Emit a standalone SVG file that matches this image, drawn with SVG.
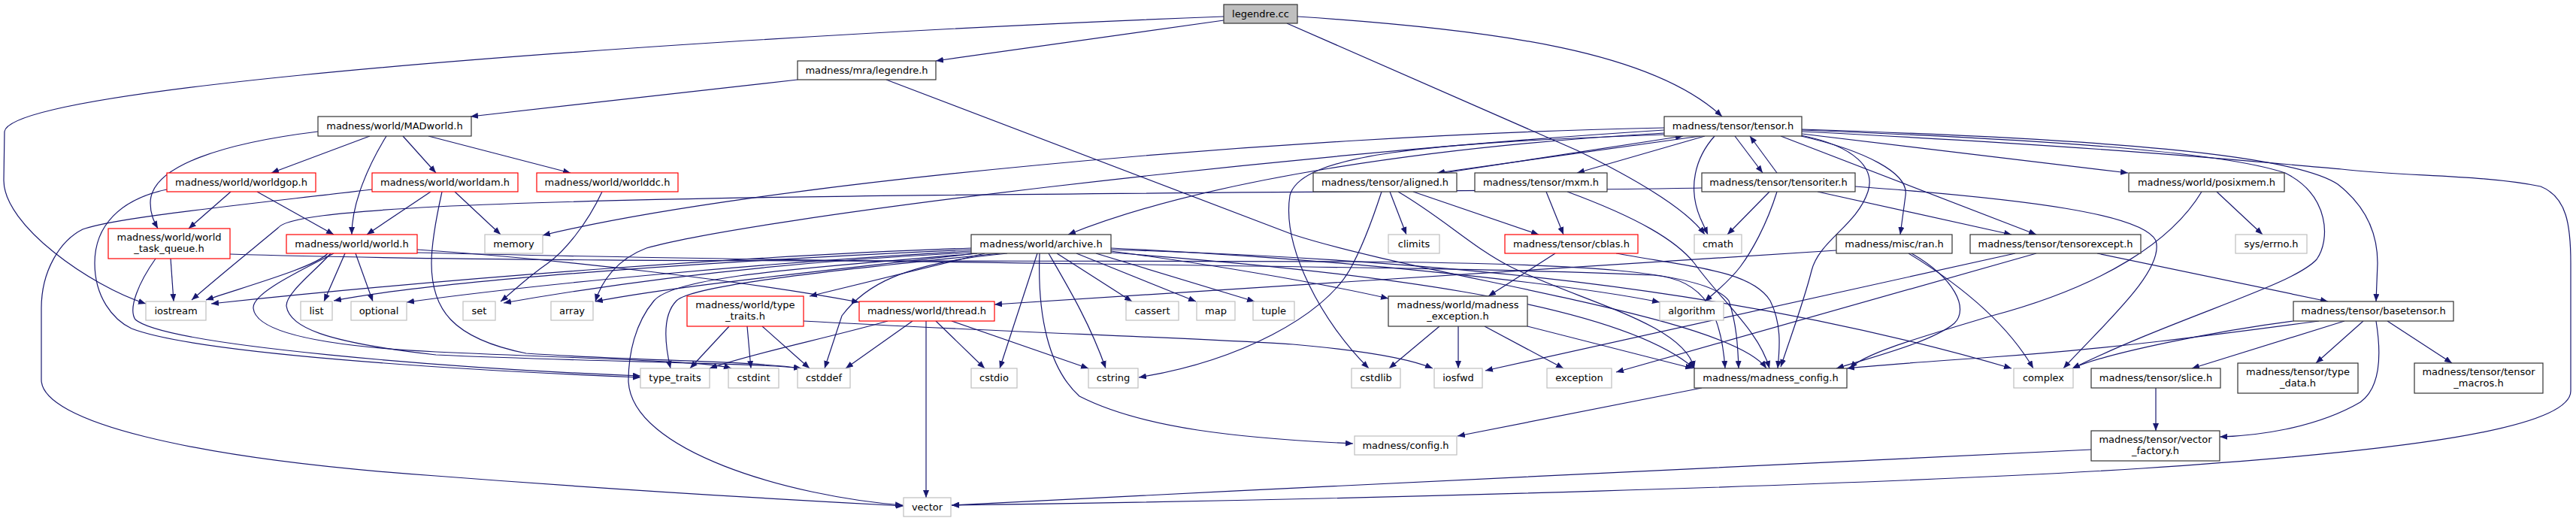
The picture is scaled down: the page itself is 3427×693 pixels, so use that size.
<svg xmlns="http://www.w3.org/2000/svg" width="3427" height="693" viewBox="0 0 3427 693">
<defs>
<marker id="a" markerWidth="11" markerHeight="8" refX="10" refY="4" orient="auto" markerUnits="userSpaceOnUse"><path d="M0,0 L10,4 L0,8 z" fill="#191970"/></marker>
<style>
.n rect{fill:#fff;stroke:#333;stroke-width:1.2}
.r rect{fill:#fff;stroke:#f00;stroke-width:1.2}
.g rect{fill:#fff;stroke:#bfbfbf;stroke-width:1.2}
.s rect{fill:#bfbfbf;stroke:#333;stroke-width:1.2}
text{font-family:"DejaVu Sans","Liberation Sans",sans-serif;font-size:13px;fill:#000;text-anchor:middle}
#edges path{fill:none;stroke:#191970;stroke-width:1.2;marker-end:url(#a)}
</style>
</defs>
<rect width="3427" height="693" fill="#fff"/>
<g id="edges">
<path d="M1628,27 L1245,81"/>
<path d="M1628,22 C1200,38 700,70 400,100 C150,125 10,150 6,175 L5,240 C5,300 120,380 194,404"/>
<path d="M1726,22 C2000,40 2200,70 2291,155"/>
<path d="M1712,31 L2098,200 C2180,240 2245,280 2268,312"/>
<path d="M1061,106 L626,155"/>
<path d="M1179,106 L1720,312 C1900,370 2300,420 2350,490"/>
<path d="M423,175 C300,190 200,220 200,270 C200,285 205,295 210,304"/>
<path d="M492,181 L361,230"/>
<path d="M514,181 C490,220 468,270 468,312"/>
<path d="M536,181 L580,230"/>
<path d="M570,181 L759,230"/>
<path d="M307,255 L251,304"/>
<path d="M342,255 L444,312"/>
<path d="M222,252 C160,265 126,300 126,350 C126,395 150,425 175,437 C260,470 600,492 852,502"/>
<path d="M573,255 L488,312"/>
<path d="M605,255 L666,312"/>
<path d="M495,252 C300,275 150,290 110,305 C80,320 55,360 55,410 L55,505 C55,560 250,610 580,633 C800,650 1050,665 1202,673"/>
<path d="M588,255 C578,300 574,330 574,350 C574,410 600,450 700,470 C850,480 1000,480 1066,490"/>
<path d="M801,255 C780,300 750,335 729,350 C700,370 680,390 666,401"/>
<path d="M227,344 L231,401"/>
<path d="M207,344 C185,375 170,410 180,425 C220,460 600,490 852,500"/>
<path d="M306,338 C700,350 1300,346 1800,348 C2100,350 2270,360 2300,400 C2310,430 2312,460 2313,490"/>
<path d="M436,337 C420,355 330,380 274,399"/>
<path d="M459,337 L431,401"/>
<path d="M473,337 L496,401"/>
<path d="M444,337 C400,360 335,390 337,410 C340,440 420,460 580,468 C800,478 940,480 973,490"/>
<path d="M440,337 C420,360 380,390 381,407 C385,435 430,455 580,472 C800,482 1000,482 1066,490"/>
<path d="M555,332 C750,345 1000,375 1143,402"/>
<path d="M555,336 C1200,352 1900,352 2200,366 C2270,372 2290,420 2295,490"/>
<path d="M2214,170 C1700,180 1000,245 722,313"/>
<path d="M2214,173 C1700,205 1000,290 860,330 C820,345 800,375 792,401"/>
<path d="M2214,177 C1900,195 1600,240 1421,312"/>
<path d="M2214,179 C1900,190 1730,205 1716,260 C1705,330 1760,430 1821,490"/>
<path d="M2262,181 L1912,230"/>
<path d="M1921,230 L2239,181"/>
<path d="M2268,181 L2098,230"/>
<path d="M2281,181 C2255,210 2245,250 2262,290 L2272,312"/>
<path d="M2308,181 L2345,230"/>
<path d="M2364,230 L2328,181"/>
<path d="M2396,181 C2480,200 2540,230 2535,260 L2528,312"/>
<path d="M2369,181 L2709,312"/>
<path d="M2397,178 L2831,230"/>
<path d="M2396,180 C2470,195 2495,225 2485,255 C2470,300 2420,320 2410,360 C2400,400 2385,440 2369,488"/>
<path d="M2397,172 C2800,185 3050,205 3110,245 C3155,280 3163,320 3163,350 L3161,401"/>
<path d="M2397,175 C2800,195 3000,215 3115,225 C3200,235 3300,232 3380,248 C3415,262 3420,300 3420,350 L3420,520 C3420,570 3200,600 2850,623 C2500,645 1800,665 1266,672"/>
<path d="M2397,173 C2700,185 2950,200 3040,230 C3100,260 3100,320 3082,345 C3050,380 2900,420 2757,490"/>
<path d="M2354,255 L2298,312"/>
<path d="M2418,255 L2676,312"/>
<path d="M2264,250 C1800,258 1000,255 580,275 C450,282 380,290 370,303 C350,320 300,360 255,399"/>
<path d="M2468,248 C2700,265 2850,285 2868,320 C2880,360 2800,430 2745,490"/>
<path d="M2364,255 C2350,300 2330,335 2315,355 C2300,375 2280,390 2268,401"/>
<path d="M1838,255 C1825,295 1812,330 1795,360 C1760,420 1650,480 1515,502"/>
<path d="M1849,255 L1871,312"/>
<path d="M1860,255 C1920,290 1960,330 2010,355 C2100,400 2240,430 2254,490"/>
<path d="M1880,255 L2047,312"/>
<path d="M2057,255 L2080,312"/>
<path d="M2085,255 C2180,290 2230,320 2254,350 C2290,400 2340,440 2354,490"/>
<path d="M2069,337 L1980,394"/>
<path d="M2150,337 C2250,355 2330,360 2355,400 C2370,430 2368,460 2365,490"/>
<path d="M1292,330 C1000,340 600,370 281,404"/>
<path d="M1292,332 C1000,345 600,370 444,400"/>
<path d="M1292,334 C1000,350 700,380 541,402"/>
<path d="M1292,336 C1000,350 800,380 670,403"/>
<path d="M1300,337 C1100,360 900,380 792,401"/>
<path d="M1310,337 L1077,394"/>
<path d="M1330,337 C1100,360 920,380 900,400 C880,420 885,460 892,490"/>
<path d="M1340,337 C1200,350 1150,380 1120,420 L1097,490"/>
<path d="M1380,337 L1330,490"/>
<path d="M1395,337 C1420,380 1450,430 1471,490"/>
<path d="M1406,337 L1506,401"/>
<path d="M1432,337 L1591,401"/>
<path d="M1458,337 L1669,401"/>
<path d="M1383,337 C1380,420 1395,490 1436,527 C1520,570 1650,583 1800,590"/>
<path d="M1300,337 C1100,355 900,365 870,400 C845,430 836,470 836,507 C840,600 1050,660 1201,672"/>
<path d="M1478,334 C1600,350 1750,375 1847,397"/>
<path d="M1478,330 C1800,345 2100,380 2208,402"/>
<path d="M1478,336 C1800,360 2150,400 2254,490"/>
<path d="M1478,332 C1900,345 2300,380 2676,490"/>
<path d="M2443,333 L1323,405"/>
<path d="M2543,337 C2600,370 2620,410 2600,430 C2570,455 2490,475 2443,490"/>
<path d="M2539,337 C2610,380 2670,430 2705,490"/>
<path d="M2681,337 L1976,493"/>
<path d="M2709,337 L2150,495"/>
<path d="M2790,337 L3097,401"/>
<path d="M2949,255 L3010,312"/>
<path d="M2929,255 C2890,320 2800,380 2650,420 C2550,450 2480,470 2461,490"/>
<path d="M1915,434 L1848,490"/>
<path d="M1940,434 L1940,490"/>
<path d="M1975,434 L2080,490"/>
<path d="M2032,434 L2252,490"/>
<path d="M2264,516 L1939,580"/>
<path d="M970,434 L918,490"/>
<path d="M994,434 L999,490"/>
<path d="M1014,434 L1077,490"/>
<path d="M1069,427 C1300,440 1600,450 1720,458 C1800,465 1870,475 1906,490"/>
<path d="M1181,427 C1100,450 1000,470 944,490"/>
<path d="M1214,427 L1125,490"/>
<path d="M1245,427 L1310,490"/>
<path d="M1266,427 L1448,490"/>
<path d="M1232,427 L1232,662"/>
<path d="M3051,427 C2950,440 2800,470 2757,490"/>
<path d="M3085,427 C2950,445 2800,465 2650,475 C2550,482 2480,487 2457,490"/>
<path d="M3119,427 L2916,490"/>
<path d="M3144,427 L3081,483"/>
<path d="M3176,427 L3262,483"/>
<path d="M3161,427 C3168,470 3168,515 3140,535 C3080,570 3000,580 2953,581"/>
<path d="M2868,516 L2868,573"/>
<path d="M2782,598 C2400,615 1800,645 1266,672"/>
</g>
<g id="legendre_cc" class="s"><rect x="1628" y="6" width="98" height="25"/><text x="1677" y="23">legendre.cc</text></g>
<g id="legendre_h" class="n"><rect x="1061" y="81" width="184" height="25"/><text x="1153" y="98">madness/mra/legendre.h</text></g>
<g id="MADworld" class="n"><rect x="423" y="155" width="204" height="26"/><text x="525" y="172">madness/world/MADworld.h</text></g>
<g id="tensor_h" class="n"><rect x="2214" y="155" width="183" height="26"/><text x="2305.5" y="172">madness/tensor/tensor.h</text></g>
<g id="worldgop" class="r"><rect x="222" y="230" width="198" height="25"/><text x="321" y="247">madness/world/worldgop.h</text></g>
<g id="worldam" class="r"><rect x="495" y="230" width="194" height="25"/><text x="592" y="247">madness/world/worldam.h</text></g>
<g id="worlddc" class="r"><rect x="714" y="230" width="188" height="25"/><text x="808" y="247">madness/world/worlddc.h</text></g>
<g id="aligned" class="n"><rect x="1747" y="230" width="191" height="25"/><text x="1842.5" y="247">madness/tensor/aligned.h</text></g>
<g id="mxm" class="n"><rect x="1962" y="230" width="176" height="25"/><text x="2050" y="247">madness/tensor/mxm.h</text></g>
<g id="tensoriter" class="n"><rect x="2264" y="230" width="204" height="25"/><text x="2366" y="247">madness/tensor/tensoriter.h</text></g>
<g id="posixmem" class="n"><rect x="2832" y="230" width="207" height="25"/><text x="2935.5" y="247">madness/world/posixmem.h</text></g>
<g id="task_queue" class="r"><rect x="144" y="304" width="162" height="40"/><text x="225" y="320">madness/world/world</text><text x="225" y="335">_task_queue.h</text></g>
<g id="world_h" class="r"><rect x="381" y="312" width="174" height="25"/><text x="468" y="329">madness/world/world.h</text></g>
<g id="memory" class="g"><rect x="645" y="312" width="77" height="25"/><text x="683.5" y="329">memory</text></g>
<g id="archive" class="n"><rect x="1292" y="312" width="186" height="25"/><text x="1385" y="329">madness/world/archive.h</text></g>
<g id="climits" class="g"><rect x="1847" y="312" width="68" height="25"/><text x="1881" y="329">climits</text></g>
<g id="cblas" class="r"><rect x="2002" y="312" width="177" height="25"/><text x="2090.5" y="329">madness/tensor/cblas.h</text></g>
<g id="cmath" class="g"><rect x="2254" y="312" width="63" height="25"/><text x="2285.5" y="329">cmath</text></g>
<g id="ran" class="n"><rect x="2443" y="312" width="154" height="25"/><text x="2520" y="329">madness/misc/ran.h</text></g>
<g id="tensorexcept" class="n"><rect x="2621" y="312" width="227" height="25"/><text x="2734.5" y="329">madness/tensor/tensorexcept.h</text></g>
<g id="errno" class="g"><rect x="2974" y="312" width="95" height="25"/><text x="3021.5" y="329">sys/errno.h</text></g>
<g id="iostream" class="g"><rect x="194" y="401" width="80" height="25"/><text x="234" y="418">iostream</text></g>
<g id="list" class="g"><rect x="400" y="401" width="42" height="25"/><text x="421" y="418">list</text></g>
<g id="optional" class="g"><rect x="467" y="401" width="74" height="25"/><text x="504" y="418">optional</text></g>
<g id="set" class="g"><rect x="616" y="401" width="43" height="25"/><text x="637.5" y="418">set</text></g>
<g id="array" class="g"><rect x="733" y="401" width="56" height="25"/><text x="761" y="418">array</text></g>
<g id="wtype_traits" class="r"><rect x="914" y="394" width="155" height="40"/><text x="991.5" y="410">madness/world/type</text><text x="991.5" y="425">_traits.h</text></g>
<g id="thread" class="r"><rect x="1143" y="401" width="180" height="26"/><text x="1233" y="418">madness/world/thread.h</text></g>
<g id="cassert" class="g"><rect x="1498" y="401" width="70" height="25"/><text x="1533" y="418">cassert</text></g>
<g id="map" class="g"><rect x="1592" y="401" width="51" height="25"/><text x="1617.5" y="418">map</text></g>
<g id="tuple" class="g"><rect x="1667" y="401" width="55" height="25"/><text x="1694.5" y="418">tuple</text></g>
<g id="mexception" class="n"><rect x="1847" y="394" width="185" height="40"/><text x="1939.5" y="410">madness/world/madness</text><text x="1939.5" y="425">_exception.h</text></g>
<g id="algorithm" class="g"><rect x="2208" y="401" width="85" height="25"/><text x="2250.5" y="418">algorithm</text></g>
<g id="basetensor" class="n"><rect x="3051" y="401" width="213" height="26"/><text x="3157.5" y="418">madness/tensor/basetensor.h</text></g>
<g id="type_traits" class="g"><rect x="852" y="490" width="92" height="26"/><text x="898" y="507">type_traits</text></g>
<g id="cstdint" class="g"><rect x="969" y="490" width="67" height="26"/><text x="1002.5" y="507">cstdint</text></g>
<g id="cstddef" class="g"><rect x="1061" y="490" width="70" height="26"/><text x="1096" y="507">cstddef</text></g>
<g id="cstdio" class="g"><rect x="1292" y="490" width="61" height="26"/><text x="1322.5" y="507">cstdio</text></g>
<g id="cstring" class="g"><rect x="1448" y="490" width="66" height="26"/><text x="1481" y="507">cstring</text></g>
<g id="cstdlib" class="g"><rect x="1798" y="490" width="65" height="26"/><text x="1830.5" y="507">cstdlib</text></g>
<g id="iosfwd" class="g"><rect x="1908" y="490" width="64" height="26"/><text x="1940" y="507">iosfwd</text></g>
<g id="exception" class="g"><rect x="2058" y="490" width="86" height="26"/><text x="2101" y="507">exception</text></g>
<g id="madness_config" class="n"><rect x="2254" y="490" width="203" height="26"/><text x="2355.5" y="507">madness/madness_config.h</text></g>
<g id="complex" class="g"><rect x="2679" y="490" width="79" height="26"/><text x="2718.5" y="507">complex</text></g>
<g id="slice" class="n"><rect x="2782" y="490" width="172" height="26"/><text x="2868" y="507">madness/tensor/slice.h</text></g>
<g id="type_data" class="n"><rect x="2977" y="483" width="160" height="40"/><text x="3057" y="499">madness/tensor/type</text><text x="3057" y="514">_data.h</text></g>
<g id="tensor_macros" class="n"><rect x="3212" y="483" width="171" height="40"/><text x="3297.5" y="499">madness/tensor/tensor</text><text x="3297.5" y="514">_macros.h</text></g>
<g id="config_h" class="g"><rect x="1802" y="580" width="136" height="25"/><text x="1870" y="597">madness/config.h</text></g>
<g id="vector_factory" class="n"><rect x="2782" y="573" width="171" height="40"/><text x="2867.5" y="589">madness/tensor/vector</text><text x="2867.5" y="604">_factory.h</text></g>
<g id="vector" class="g"><rect x="1202" y="662" width="63" height="25"/><text x="1233.5" y="679">vector</text></g>
</svg>
